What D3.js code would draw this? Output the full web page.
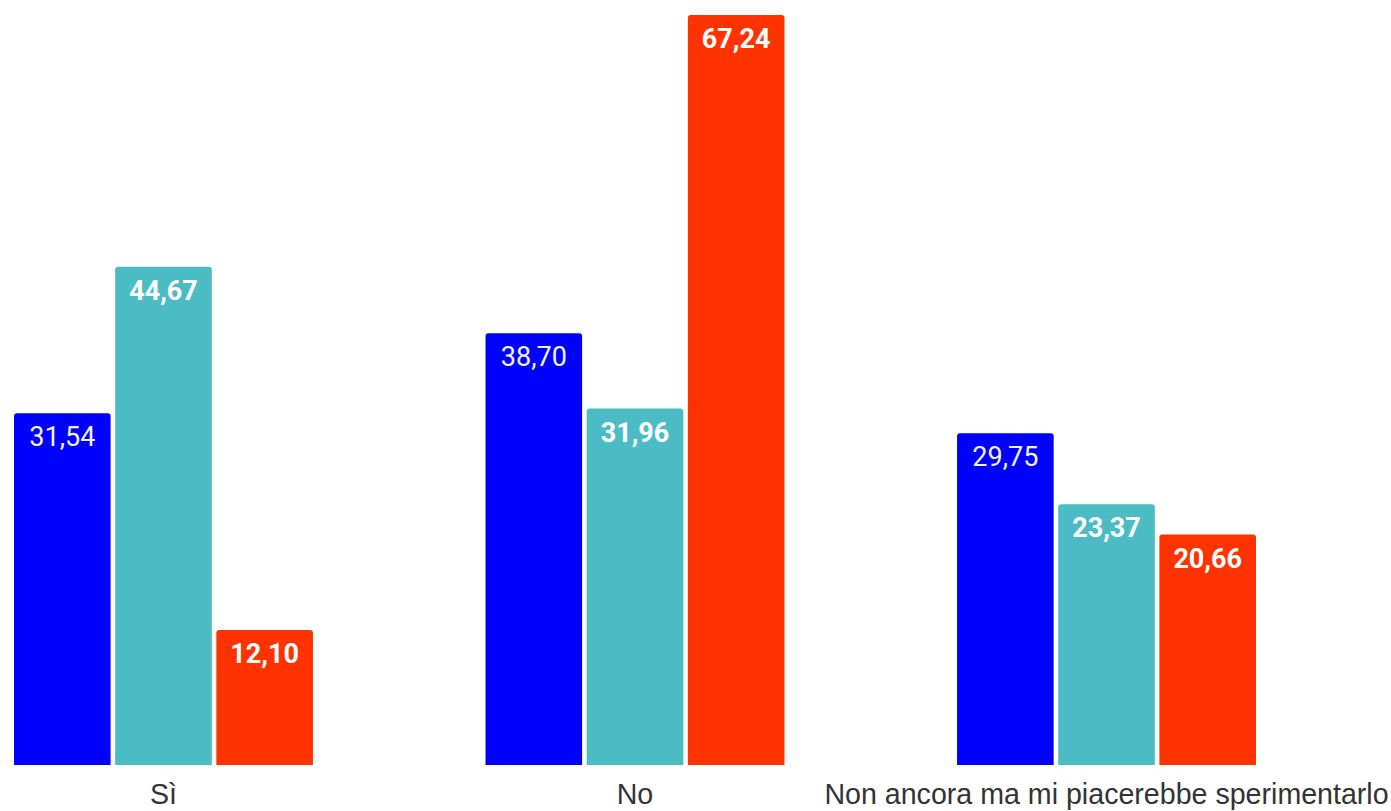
<!DOCTYPE html>
<html>
<head>
<meta charset="utf-8">
<script src="https://cdn.jsdelivr.net/npm/d3@7"></script>
<style>
html,body{margin:0;padding:0;background:#fff;}
svg{display:block;}
</style>
</head>
<body>
<svg id="chart" width="1391" height="811"></svg>
<script>
const categories = ["Sì", "No", "Non ancora ma mi piacerebbe sperimentarlo"];
const seriesNames = ["Serie 1", "Serie 2", "Serie 3"];
const series1 = [31.54, 38.70, 29.75];
const series2 = [44.67, 31.96, 23.37];
const series3 = [12.10, 67.24, 20.66];
const colors = ["#0000ff", "#4bbcc4", "#ff3300"];
const labelWeights = ["normal", "bold", "bold"];

const allSeries = [series1, series2, series3];
const rows = categories.map((c, i) => ({
  cat: c,
  vals: allSeries.map((s, j) => ({ key: seriesNames[j], idx: j, v: s[i] }))
}));

const svg = d3.select("#chart");
const baseY = 765, topY = 15;
const x0 = d3.scaleBand().domain(categories).range([14, 1256]).paddingInner(0.366).paddingOuter(0);
const x1 = d3.scaleBand().domain(seriesNames).range([0, x0.bandwidth()]).paddingInner(0.045).paddingOuter(0);
const y = d3.scaleLinear().domain([0, 67.24]).range([baseY, topY]);

const fmt = v => v.toFixed(2).replace(".", ",");
const r = 3;
function topRounded(x, yTop, w, h) {
  return `M${x},${yTop + h}V${yTop + r}Q${x},${yTop} ${x + r},${yTop}H${x + w - r}Q${x + w},${yTop} ${x + w},${yTop + r}V${yTop + h}Z`;
}

const g = svg.selectAll("g.grp").data(rows).join("g")
  .attr("class", "grp")
  .attr("transform", d => `translate(${x0(d.cat)},0)`);

g.selectAll("path.bar").data(d => d.vals).join("path")
  .attr("class", "bar")
  .attr("fill", d => colors[d.idx])
  .attr("d", d => topRounded(x1(d.key), y(d.v), x1.bandwidth(), baseY - y(d.v)));

g.selectAll("text.val").data(d => d.vals).join("text")
  .attr("class", "val")
  .attr("x", d => x1(d.key) + x1.bandwidth() / 2)
  .attr("y", d => y(d.v) + 33)
  .attr("text-anchor", "middle")
  .attr("fill", d => d.idx === 0 ? "#f2f2f2" : "#ffffff")
  .style("font-family", "Roboto, sans-serif")
  .style("font-size", "27px")
  .style("font-weight", d => labelWeights[d.idx])
  .text(d => fmt(d.v));

const xAxis = d3.axisBottom(x0).tickSize(0).tickPadding(0);
const ax = svg.append("g").attr("transform", `translate(0,${baseY})`).call(xAxis);
ax.select(".domain").remove();
ax.selectAll("text")
  .attr("dy", null)
  .attr("y", 39)
  .attr("fill", "#333")
  .style("font-family", "'Liberation Sans', Arial, sans-serif")
  .style("font-size", "28.6px");
</script>
</body>
</html>
